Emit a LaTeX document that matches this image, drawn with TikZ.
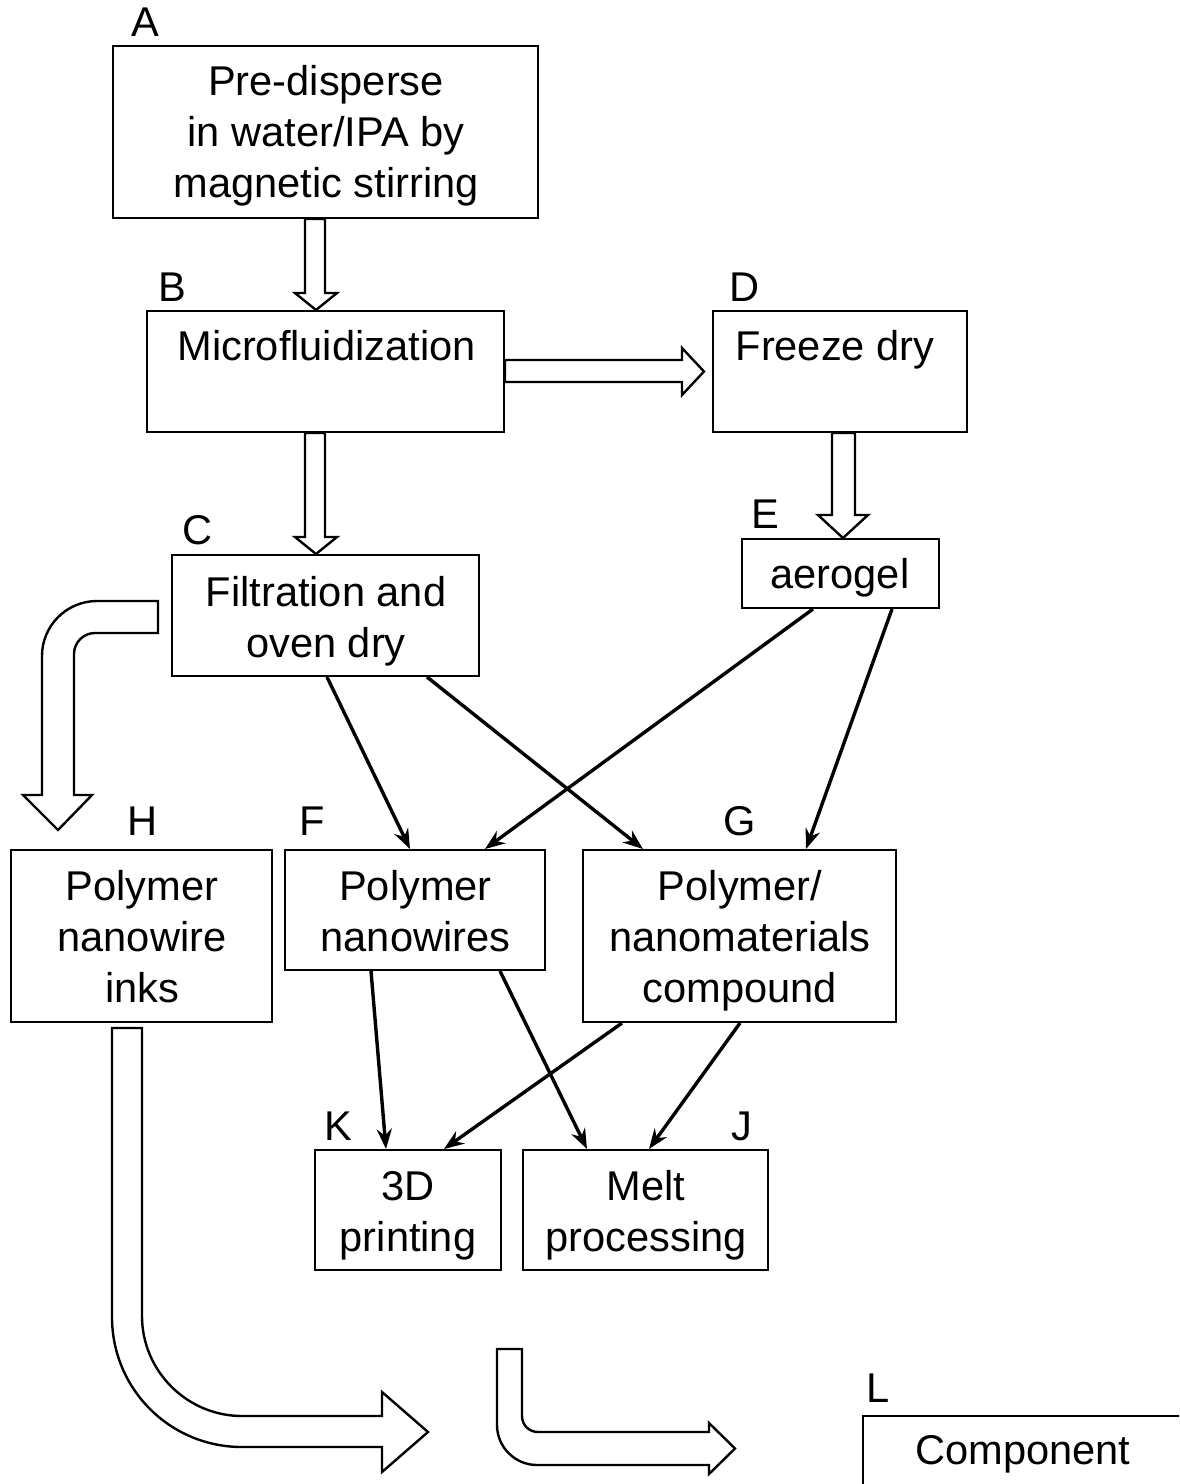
\documentclass[tikz,border=0pt]{standalone}
\usepackage{fontspec}
\setmainfont{Liberation Sans}
\usetikzlibrary{arrows.meta,calc}
\newcommand\diagsize{\fontsize{20.8pt}{25.5pt}\selectfont}
\newcommand\linestrut{\rule{0pt}{16pt}}
\begin{document}
\begin{tikzpicture}[x=0.5pt, y=-0.5pt,
  box/.style={draw, line width=1pt, inner sep=0pt},
  txt/.style={anchor=north, yshift=16pt, align=center, inner sep=0pt, font=\diagsize},
  lbl/.style={anchor=base, inner sep=0pt, font=\diagsize},
  barrow/.style={draw, line width=1.2pt, fill=white, line join=miter},
  conn/.style={line width=1.7pt, -{Stealth[length=10pt, width=7.5pt]}}]

\useasboundingbox (0,0) rectangle (1179,1484);
\clip (0,0) rectangle (1179,1484);

% process boxes
\node[box, minimum width=212.5pt, minimum height=86pt]   (A) at (325.5,132)   {};
\node[box, minimum width=178.5pt, minimum height=60.5pt] (B) at (325.5,371.5) {};
\node[box, minimum width=127pt,   minimum height=60.5pt] (D) at (840,371.5)   {};
\node[box, minimum width=153.5pt, minimum height=60.5pt] (C) at (325.5,615.5) {};
\node[box, minimum width=98.5pt,  minimum height=34.5pt] (E) at (840.5,573.5) {};
\node[box, minimum width=130.5pt, minimum height=86pt]   (H) at (141.5,936)   {};
\node[box, minimum width=130pt,   minimum height=60pt]   (F) at (415,910)     {};
\node[box, minimum width=156.5pt, minimum height=86pt]   (G) at (739.5,936)   {};
\node[box, minimum width=93pt,    minimum height=60pt]   (K) at (408,1210)    {};
\node[box, minimum width=122.5pt, minimum height=60pt]   (J) at (645.5,1210)  {};
\node[box, minimum width=168.5pt, minimum height=44pt]   (L) at (1031.5,1460) {};

% box texts (placed at the baseline of their first line)
\node[txt] (Atext) at (326,95)    {\linestrut Pre-disperse\\in water/IPA by\\magnetic stirring};
\node[txt] (Btext) at (326.5,360) {\linestrut Microfluidization};
\node[txt] (Dtext) at (835,360)   {\linestrut Freeze dry};
\node[txt] (Ctext) at (326,606)   {\linestrut Filtration and\\oven dry};
\node[txt] (Etext) at (840,588)   {\linestrut aerogel};
\node[txt] (Htext) at (142,900)   {\linestrut Polymer\\nanowire\\inks};
\node[txt] (Ftext) at (415.5,900) {\linestrut Polymer\\nanowires};
\node[txt] (Gtext) at (740,900)   {\linestrut Polymer/\\nanomaterials\\compound};
\node[txt] (Ktext) at (408,1200)  {\linestrut 3D\\printing};
\node[txt] (Jtext) at (646,1200)  {\linestrut Melt\\processing};
\node[txt] (Ltext) at (1023,1464) {\linestrut Component};

% step letters
\node[lbl] (Albl) at (145,36)   {A};
\node[lbl] (Blbl) at (172,301)  {B};
\node[lbl] (Dlbl) at (745,301)  {D};
\node[lbl] (Clbl) at (198,544)  {C};
\node[lbl] (Elbl) at (765,528)  {E};
\node[lbl] (Hlbl) at (143,835)  {H};
\node[lbl] (Flbl) at (312,835)  {F};
\node[lbl] (Glbl) at (740,835)  {G};
\node[lbl] (Klbl) at (338,1140) {K};
\node[lbl] (Jlbl) at (742,1140) {J};
\node[lbl] (Llbl) at (878,1402) {L};

% hollow block arrows
\draw[barrow] (A.south -| 305,0) -- (305,293) -- (295,293) -- (B.north -| 316,0)
  -- (337,293) -- (325,293) -- (A.south -| 325,0) -- cycle;
\draw[barrow] (B.south -| 305,0) -- (305,537) -- (295,537) -- (C.north -| 316,0)
  -- (337,537) -- (325,537) -- (B.south -| 325,0) -- cycle;
\draw[barrow] (B.east |- 0,360) -- (682,360) -- (682,348) -- ([xshift=-4pt]D.west)
  -- (682,395) -- (682,382) -- (B.east |- 0,382) -- cycle;
\draw[barrow] (D.south -| 832,0) -- (832,515) -- (818,515) -- (E.north -| 843,0)
  -- (868,515) -- (855,515) -- (D.south -| 855,0) -- cycle;

% bent block arrow from filtration down to the ink route
\draw[barrow] (158,601) -- (97,601) .. controls (66.6,601) and (42,625.6) .. (42,656)
  -- (42,795) -- (23,795) -- (58,830) -- (92,795) -- (74,795) -- (74,654)
  .. controls (74,642.4) and (83.4,633) .. (95,633) -- (158,633) -- cycle;

% bent block arrow from the inks towards the component
\draw[barrow] (112,1028) -- (112,1317) .. controls (112,1389) and (170,1447) .. (242,1447)
  -- (382,1447) -- (382,1472) -- (428,1432) -- (382,1392) -- (382,1416) -- (242,1416)
  .. controls (187,1416) and (142,1371) .. (142,1316) -- (142,1028) -- cycle;

% bent block arrow from the processing routes to the component
\draw[barrow] (497,1349) -- (497,1425) .. controls (497,1447) and (515,1465) .. (537,1465)
  -- (709,1465) -- (709,1474) -- (735,1448.5) -- (709,1423) -- (709,1432) -- (538,1432)
  .. controls (529,1432) and (522,1425) .. (522,1416) -- (522,1349) -- cycle;

% thin connectors
\draw[conn] (C.south -| 327,0) -- (F.north -| 410,0);
\draw[conn] (C.south -| 427,0) -- (G.north -| 643,0);
\draw[conn] (E.south -| 813,0) -- (F.north -| 485,0);
\draw[conn] (E.south -| 892,0) -- (G.north -| 806,0);
\draw[conn] (F.south -| 371,0) -- (K.north -| 386,0);
\draw[conn] (F.south -| 500,0) -- (J.north -| 587,0);
\draw[conn] (G.south -| 622,0) -- (K.north -| 444,0);
\draw[conn] (G.south -| 740,0) -- (J.north -| 649,0);
\end{tikzpicture}
\end{document}
